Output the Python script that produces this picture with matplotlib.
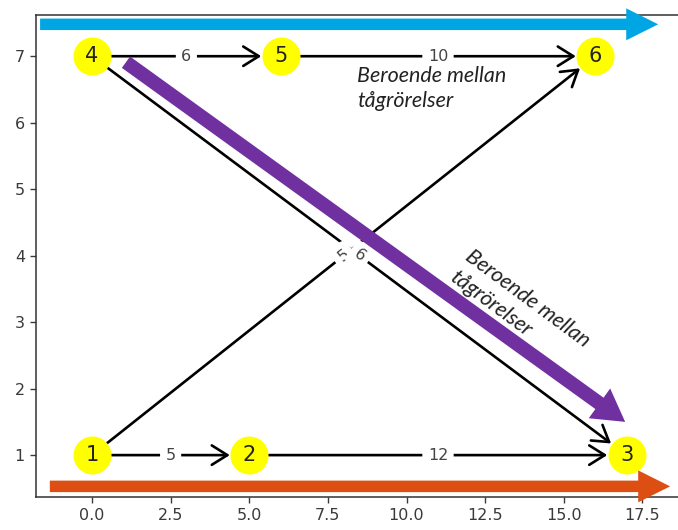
import numpy as np
import matplotlib.pyplot as plt

# graph data
nodes = [1, 2, 3, 4, 5, 6]
node_x = [0, 5, 17, 0, 6, 16]
node_y = [1, 1, 1, 7, 7, 7]
edges = [(1, 2), (2, 3), (4, 5), (5, 6), (1, 6), (4, 3)]
weights = [5, 12, 6, 10, 5, 6]

overlay_text = "Beroende mellan\ntågrörelser"

pos = {n: (x, y) for n, x, y in zip(nodes, node_x, node_y)}

fig = plt.figure(figsize=(6.78, 5.3), dpi=100)
ax = fig.add_axes([36/678, 33/530, 1 - 36/678, 482/530])
ax.set_xlim(-1.78, 18.63)
ax.set_ylim(0.37, 7.62)
ax.spines['right'].set_visible(False)
for s in ['left', 'bottom', 'top']:
    ax.spines[s].set_color('#333333')
    ax.spines[s].set_linewidth(1.1)
ax.set_xticks([0, 2.5, 5, 7.5, 10, 12.5, 15, 17.5])
ax.set_yticks([1, 2, 3, 4, 5, 6, 7])
ax.tick_params(labelsize=11.5, colors='#3a3a3a', length=4.5, width=1.0)

# edges
for (u, v) in edges:
    ax.annotate("", xy=pos[v], xytext=pos[u],
                arrowprops=dict(arrowstyle='->,head_length=0.4,head_width=0.25',
                                mutation_scale=28, lw=1.9, color='black',
                                shrinkA=14, shrinkB=14), zorder=1)

# nodes
ax.scatter(node_x, node_y, s=750, c='#ffff00', zorder=2, linewidths=0)
for n, x, y in zip(nodes, node_x, node_y):
    ax.text(x, y, str(n), ha='center', va='center', fontsize=15, color='#222222', zorder=3)

# edge labels, rotated along the edge like networkx does
for (u, v), w in zip(edges, weights):
    (x1, y1), (x2, y2) = pos[u], pos[v]
    p1 = ax.transData.transform((x1, y1))
    p2 = ax.transData.transform((x2, y2))
    ang = np.degrees(np.arctan2(p2[1] - p1[1], p2[0] - p1[0]))
    if ang > 90:
        ang -= 180
    if ang < -90:
        ang += 180
    ax.text((x1 + x2) / 2, (y1 + y2) / 2, str(w), ha='center', va='center',
            fontsize=11.5, color='#444444', rotation=ang, rotation_mode='anchor',
            bbox=dict(boxstyle='round', ec='white', fc='white'), zorder=1.5)

# overlay arrows
ax.annotate("", xy=(18.0, 7.48), xytext=(-1.65, 7.48),
            arrowprops=dict(arrowstyle='simple,tail_width=0.36,head_width=1.0,head_length=1.0',
                            mutation_scale=23, color='#00a6e4', lw=0, shrinkA=0, shrinkB=0),
            annotation_clip=False, zorder=5).arrow_patch.set_clip_on(False)
ax.annotate("", xy=(18.38, 0.53), xytext=(-1.34, 0.53),
            arrowprops=dict(arrowstyle='simple,tail_width=0.36,head_width=1.0,head_length=1.0',
                            mutation_scale=23, color='#dd4e12', lw=0, shrinkA=0, shrinkB=0),
            annotation_clip=False, zorder=5).arrow_patch.set_clip_on(False)
ax.annotate("", xy=(16.95, 1.50), xytext=(1.08, 6.91),
            arrowprops=dict(arrowstyle='simple,tail_width=0.42,head_width=1.1,head_length=0.95',
                            mutation_scale=24, color='#7030a0', lw=0, shrinkA=0, shrinkB=0),
            annotation_clip=False, zorder=5)

ax.text(8.43, 6.86, overlay_text, ha='left', va='top', fontsize=15.5, family='Lato',
        style='italic', color='#222222', linespacing=1.35, zorder=6)
ax.text(13.6, 3.2, overlay_text, ha='center', va='center', fontsize=15.5, family='Lato',
        style='italic', color='#222222', linespacing=1.35, rotation=-36.5,
        rotation_mode='anchor', multialignment='left', zorder=6)

fig.savefig('out.png', dpi=100)
